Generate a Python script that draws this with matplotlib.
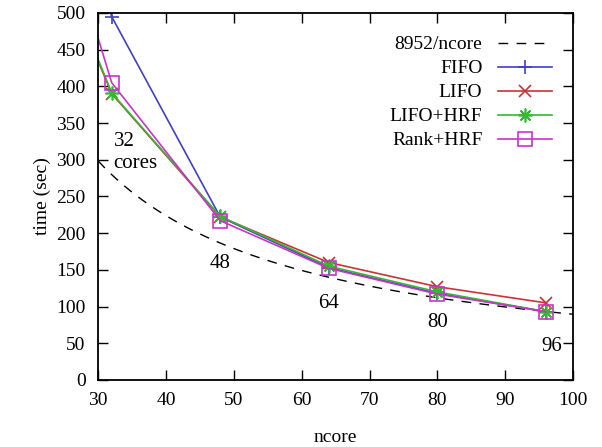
import matplotlib.pyplot as plt
import numpy as np

plt.rcParams['font.family'] = ['Liberation Serif', 'DejaVu Serif']
plt.rcParams['font.size'] = 14

# данные
ncore = [16, 32, 48, 64, 80, 96]
fifo = [1000, 495, 222, 153, 118, 93]
lifo = [745, 390, 222, 160, 127, 105]
lifo_hrf = [758, 391, 223, 155, 120, 93]
rank_hrf = [890, 405, 217, 152, 117, 93]

ideal_work = 8952
label_text = ['32\ncores', '48', '64', '80', '96']

fig = plt.figure(figsize=(6.02, 4.47), dpi=100)
ax = fig.add_axes([0.163, 0.150, 0.789, 0.821])

xs = np.linspace(30, 100, 300)
ax.plot(xs, ideal_work / xs, color='black', linestyle=(0, (7, 6)), linewidth=1.0,
        label='8952/ncore')
ax.plot(ncore, fifo, color='#4040c8', marker='+', markersize=10, markeredgewidth=1.2,
        linewidth=1.2, label='FIFO')
ax.plot(ncore, lifo, color='#c83434', marker='x', markersize=9, markeredgewidth=1.2,
        linewidth=1.2, label='LIFO')
ax.plot(ncore, lifo_hrf, color='#34b834', marker=(8, 2, 0), markersize=10,
        markeredgewidth=1.2, linewidth=1.2, label='LIFO+HRF')
ax.plot(ncore, rank_hrf, color='#c834c8', marker='s', markersize=10,
        markerfacecolor='none', markeredgewidth=1.2, linewidth=1.2, label='Rank+HRF')

# подписи под идеальной кривой
label_pos = [(32.3, 310), (48, 158), (64, 104), (80, 78), (96.8, 45)]
for (px, py), t in zip(label_pos, label_text):
    ax.text(px, py, t, fontsize=15, ha='left' if '\n' in t else 'center',
            va='center', linespacing=1.2)

ax.set_xlim(30, 100)
ax.set_ylim(0, 500)
ax.set_xticks(np.arange(30, 101, 10))
ax.set_yticks(np.arange(0, 501, 50))
ax.tick_params(direction='in', length=7, width=1, top=True, right=True,
               labelsize=14, pad=9)
for s in ax.spines.values():
    s.set_linewidth(1.3)

ax.set_xlabel('ncore', fontsize=14, labelpad=14)
ax.set_ylabel('time (sec)', fontsize=14)

ax.legend(loc='upper right', bbox_to_anchor=(0.985, 0.975), frameon=False,
          markerfirst=False, handlelength=2.8, fontsize=14, labelspacing=0.33,
          borderaxespad=0.3)

fig.savefig('out.png', dpi=100)
